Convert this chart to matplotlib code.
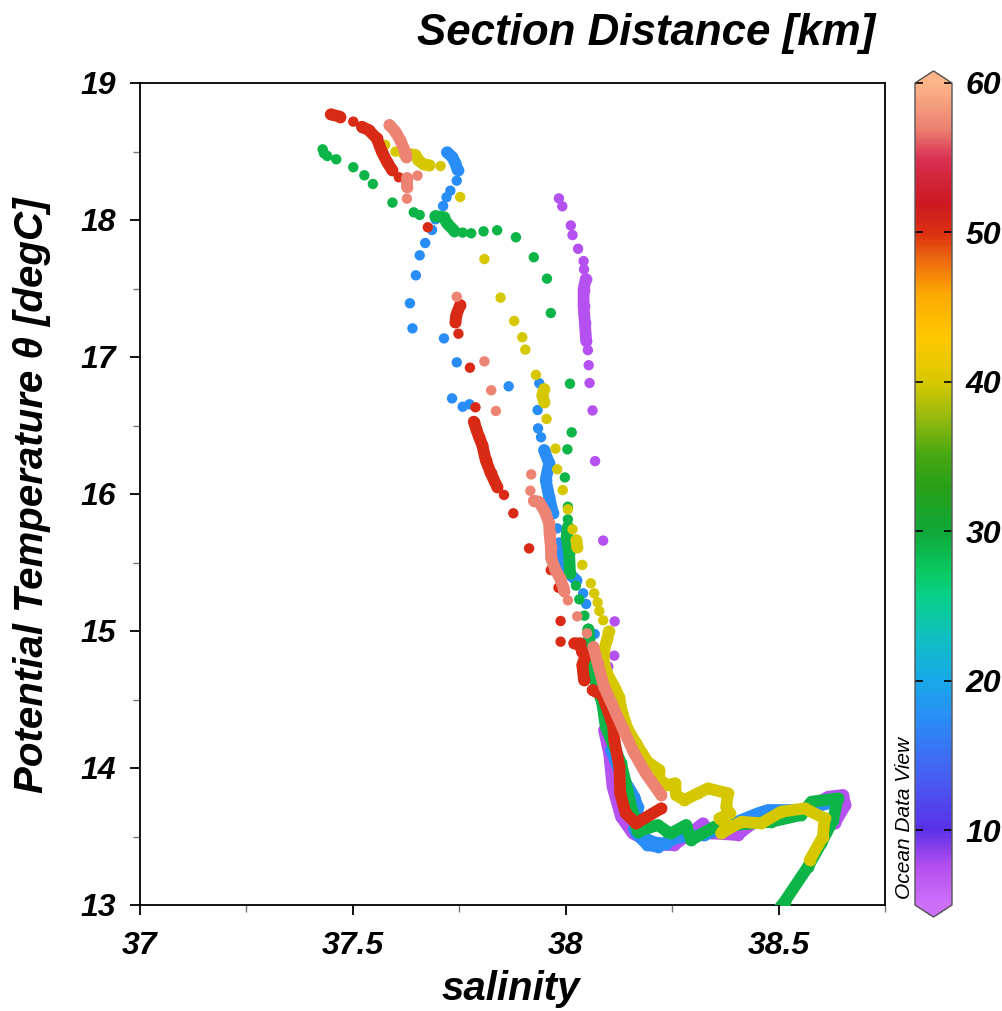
import matplotlib
matplotlib.use("Agg")
import matplotlib.pyplot as plt
from matplotlib.colors import LinearSegmentedColormap, Normalize
from matplotlib.cm import ScalarMappable

# section distance of each cast [km]
dist_a, dist_b, dist_c, dist_d, dist_e, dist_f = 7.5, 17.5, 29, 40, 50.5, 57

# purple cast
a_dots_s = [37.984, 37.992, 38.012, 38.016, 38.029, 38.042, 38.043, 38.052, 38.054, 38.056, 38.063, 38.069, 38.088, 38.115, 38.114, 38.100]
a_dots_t = [18.158, 18.10, 17.96, 17.89, 17.79, 17.70, 17.64, 17.05, 16.94, 16.81, 16.61, 16.24, 15.66, 15.07, 14.82, 14.74]
a_upper_s = [38.047, 38.042, 38.042, 38.045, 38.048]
a_upper_t = [17.57, 17.49, 17.37, 17.25, 17.12]
a_lower_s = [38.090, 38.102, 38.110, 38.130, 38.157, 38.208, 38.255, 38.287, 38.322, 38.341, 38.404, 38.475, 38.561, 38.616, 38.651, 38.657, 38.632]
a_lower_t = [14.277, 14.107, 13.863, 13.644, 13.523, 13.438, 13.438, 13.511, 13.596, 13.523, 13.511, 13.681, 13.693, 13.790, 13.803, 13.730, 13.596]

# blue cast
b_dots_s = [37.744, 37.729, 37.720, 37.712, 37.694, 37.686, 37.670, 37.657, 37.648, 37.634, 37.640, 37.714, 37.744, 37.866, 37.733, 37.758, 37.774, 37.938, 37.934, 37.935, 37.942, 37.980, 38.041, 38.048, 38.068]
b_dots_t = [18.287, 18.214, 18.166, 18.102, 18.005, 17.927, 17.832, 17.742, 17.596, 17.392, 17.209, 17.136, 16.961, 16.786, 16.698, 16.637, 16.655, 16.808, 16.613, 16.479, 16.414, 15.749, 15.275, 15.197, 14.978]
b_upper_s = [37.721, 37.733, 37.741, 37.746]
b_upper_t = [18.494, 18.462, 18.414, 18.365]
b_mid_s = [37.949, 37.961, 37.953, 37.961, 37.970]
b_mid_t = [16.321, 16.224, 16.102, 15.980, 15.859]
b_mid2_s = [37.984, 37.992, 38.008, 38.024]
b_mid2_t = [15.640, 15.518, 15.421, 15.372]
b_lower_s = [38.106, 38.130, 38.161, 38.169, 38.165, 38.192, 38.216, 38.247, 38.271, 38.326, 38.451, 38.475, 38.561, 38.616]
b_lower_t = [14.131, 13.950, 13.790, 13.717, 13.523, 13.438, 13.425, 13.474, 13.498, 13.511, 13.669, 13.693, 13.693, 13.742]
b_blob_s = [38.160, 38.185, 38.205, 38.235]
b_blob_t = [13.555, 13.490, 13.460, 13.445]

# green cast
c_dots_s = [37.429, 37.432, 37.440, 37.461, 37.501, 37.527, 37.547, 37.593, 37.643, 37.657, 37.758, 37.778, 37.807, 37.839, 37.883, 37.925, 37.956, 37.965, 38.010, 38.014, 38.004, 37.998, 38.005, 38.005, 38.024, 38.032, 38.044]
c_dots_t = [18.516, 18.487, 18.467, 18.443, 18.385, 18.326, 18.263, 18.127, 18.056, 18.037, 17.908, 17.903, 17.917, 17.925, 17.874, 17.728, 17.572, 17.321, 16.805, 16.450, 16.326, 16.121, 15.907, 15.815, 15.331, 15.231, 15.112]
c_upper_s = [37.694, 37.713, 37.721, 37.738]
c_upper_t = [18.029, 18.020, 17.976, 17.922]
c_mid_s = [38.005, 38.002, 38.008, 38.010]
c_mid_t = [15.761, 15.688, 15.567, 15.421]
c_lower_s = [38.053, 38.055, 38.059, 38.071, 38.086, 38.094, 38.130, 38.145, 38.157, 38.169, 38.216, 38.239, 38.247, 38.283, 38.294, 38.349, 38.483, 38.553, 38.577, 38.639, 38.628, 38.600, 38.569, 38.514, 38.495]
c_lower_t = [15.012, 14.939, 14.764, 14.618, 14.472, 14.301, 14.034, 13.839, 13.669, 13.535, 13.584, 13.535, 13.523, 13.584, 13.474, 13.571, 13.608, 13.657, 13.754, 13.778, 13.620, 13.450, 13.279, 13.024, 12.95]

# yellow cast
d_dots_s = [37.576, 37.600, 37.706, 37.752, 37.809, 37.847, 37.879, 37.898, 37.905, 37.930, 37.955, 37.976, 37.980, 37.993, 38.005, 38.016, 38.039, 38.059, 38.067, 38.075, 38.079, 38.088]
d_dots_t = [18.548, 18.499, 18.394, 18.168, 17.715, 17.433, 17.263, 17.144, 17.054, 16.869, 16.548, 16.331, 16.180, 16.029, 15.888, 15.742, 15.482, 15.348, 15.275, 15.209, 15.146, 15.078]
d_upper_s = [37.619, 37.647, 37.654, 37.666, 37.680]
d_upper_t = [18.487, 18.475, 18.438, 18.406, 18.399]
d_mid_s = [37.949, 37.945, 37.949]
d_mid_t = [16.766, 16.723, 16.674]
d_mid2_s = [38.025, 38.027]
d_mid2_t = [15.664, 15.611]
d_lower_s = [38.101, 38.098, 38.090, 38.089, 38.100, 38.114, 38.125, 38.133, 38.145, 38.165, 38.192, 38.220, 38.220, 38.239, 38.257, 38.259, 38.279, 38.310, 38.334, 38.381, 38.377, 38.385, 38.361, 38.381, 38.365, 38.412, 38.459, 38.506, 38.561, 38.608, 38.604, 38.573]
d_lower_t = [14.997, 14.946, 14.861, 14.764, 14.671, 14.594, 14.520, 14.399, 14.289, 14.180, 14.046, 13.985, 13.912, 13.876, 13.888, 13.803, 13.766, 13.815, 13.851, 13.815, 13.717, 13.669, 13.632, 13.584, 13.523, 13.608, 13.596, 13.681, 13.705, 13.632, 13.498, 13.328]

# red cast
e_dots_s = [37.501, 37.608, 37.676, 37.748, 37.775, 37.788, 37.855, 37.877, 37.914, 37.965, 37.983, 37.988, 37.988]
e_dots_t = [18.718, 18.312, 17.947, 17.170, 16.922, 16.633, 15.993, 15.859, 15.603, 15.445, 15.316, 15.073, 14.922]
e_top_s = [37.448, 37.470]
e_top_t = [18.771, 18.754]
e_upper_s = [37.521, 37.537, 37.556, 37.568, 37.580, 37.592]
e_upper_t = [18.681, 18.657, 18.596, 18.499, 18.426, 18.365]
e_short_s = [37.752, 37.743, 37.741]
e_short_t = [17.380, 17.307, 17.253]
e_mid_s = [37.784, 37.790, 37.796, 37.804, 37.812, 37.824, 37.839]
e_mid_t = [16.528, 16.472, 16.419, 16.357, 16.248, 16.151, 16.053]
e_mid2_s = [38.020, 38.033, 38.038, 38.047, 38.039, 38.043]
e_mid2_t = [14.910, 14.910, 14.849, 14.825, 14.752, 14.642]
e_lower_s = [38.063, 38.086, 38.111, 38.114, 38.126, 38.128, 38.141, 38.165, 38.224]
e_lower_t = [14.569, 14.533, 14.314, 14.204, 14.009, 13.815, 13.669, 13.596, 13.705]

# salmon cast
f_dots_s = [37.652, 37.627, 37.744, 37.809, 37.825, 37.836, 37.919, 37.917, 38.005, 38.027, 38.050]
f_dots_t = [18.324, 18.156, 17.440, 16.968, 16.757, 16.606, 16.143, 16.024, 15.224, 15.107, 14.983]
f_upper_s = [37.586, 37.600, 37.611, 37.623, 37.625]
f_upper_t = [18.694, 18.645, 18.584, 18.499, 18.462]
f_short_s = [37.627, 37.627]
f_short_t = [18.304, 18.239]
f_mid_s = [37.925, 37.937, 37.951, 37.961, 37.962, 37.965, 37.966, 37.976, 37.986, 37.994, 37.996]
f_mid_t = [15.951, 15.944, 15.871, 15.786, 15.713, 15.615, 15.530, 15.445, 15.389, 15.323, 15.292]
f_lower_s = [38.065, 38.075, 38.090, 38.106, 38.134, 38.161, 38.188, 38.224]
f_lower_t = [14.885, 14.764, 14.594, 14.484, 14.289, 14.107, 13.961, 13.803]

casts = [
    (dist_a, a_dots_s, a_dots_t, [(a_upper_s, a_upper_t), (a_lower_s, a_lower_t)]),
    (dist_b, b_dots_s, b_dots_t, [(b_upper_s, b_upper_t), (b_mid_s, b_mid_t), (b_mid2_s, b_mid2_t), (b_lower_s, b_lower_t), (b_blob_s, b_blob_t)]),
    (dist_c, c_dots_s, c_dots_t, [(c_upper_s, c_upper_t), (c_mid_s, c_mid_t), (c_lower_s, c_lower_t)]),
    (dist_d, d_dots_s, d_dots_t, [(d_upper_s, d_upper_t), (d_mid_s, d_mid_t), (d_mid2_s, d_mid2_t), (d_lower_s, d_lower_t)]),
    (dist_e, e_dots_s, e_dots_t, [(e_top_s, e_top_t), (e_upper_s, e_upper_t), (e_short_s, e_short_t), (e_mid_s, e_mid_t), (e_mid2_s, e_mid2_t), (e_lower_s, e_lower_t)]),
    (dist_f, f_dots_s, f_dots_t, [(f_upper_s, f_upper_t), (f_short_s, f_short_t), (f_mid_s, f_mid_t), (f_lower_s, f_lower_t)]),
]

cbar_ticks = [10, 20, 30, 40, 50, 60]
x_ticks = [37, 37.5, 38, 38.5]
x_labels = ["37", "37.5", "38", "38.5"]
x_minor = [37.25, 37.75, 38.25, 38.75]
y_ticks = [13, 14, 15, 16, 17, 18, 19]
y_minor = [13.5, 14.5, 15.5, 16.5, 17.5, 18.5]

# ODV style rainbow, picked off the colour bar
vmin, vmax = 5, 60
stops = [(5, "#cc70f8"), (7.5, "#b44ff0"), (10, "#5a30e8"), (13, "#4a58f0"), (17.4, "#2a8cf8"),
         (20, "#18a8e8"), (23, "#10c0c0"), (25.6, "#08d088"), (27.4, "#08c860"), (30, "#10a838"),
         (33, "#28a018"), (35.2, "#48a810"), (37.4, "#90b810"), (40, "#d8c800"), (43, "#ffc800"),
         (46, "#fca800"), (48, "#f07010"), (50, "#dc3010"), (52, "#cc1820"), (55, "#d83050"),
         (57, "#ec8070"), (60, "#fcb488")]
cmap = LinearSegmentedColormap.from_list("odv", [((v - vmin) / (vmax - vmin), c) for v, c in stops], N=256)
norm = Normalize(vmin, vmax)

font = {"family": "Liberation Sans", "weight": "bold", "style": "italic"}

fig = plt.figure(figsize=(10.03, 10.11), dpi=100)
W, H = 1003, 1011
ax = fig.add_axes([140 / W, 1 - 905 / H, 745 / W, 822 / H])

z = 3
for dist, dots_s, dots_t, traces in casts:
    color = cmap(norm(dist))
    for s, t in traces:
        ax.plot(s, t, color=color, lw=8.5, marker="o", ms=8.5, mew=0, solid_capstyle="round",
                solid_joinstyle="round", zorder=z)
    ax.scatter(dots_s, dots_t, c=[dist] * len(dots_s), cmap=cmap, norm=norm, s=56, linewidths=0, zorder=z)
    z += 1

ax.set_xlim(37, 38.75)
ax.set_ylim(13, 19)
ax.set_xticks(x_ticks, x_labels)
ax.set_yticks(y_ticks)
ax.set_xticks(x_minor, minor=True)
ax.set_yticks(y_minor, minor=True)
ax.tick_params(which="major", length=7.5, width=1.3, color="black")
ax.tick_params(axis="x", which="major", pad=11)
ax.tick_params(axis="y", which="major", pad=10)
ax.tick_params(which="minor", length=5, width=1, color="#777777")
for lab in ax.get_xticklabels() + ax.get_yticklabels():
    lab.set(fontsize=23, **font)
for sp in ax.spines.values():
    sp.set_linewidth(1.3)

fig.text(511 / W, 1 - 989 / H, "salinity", fontsize=29, ha="center", va="center", **font)
fig.text(32 / W, 1 - 495 / H, "Potential Temperature θ [degC]", fontsize=29, rotation=90, ha="center", va="center", **font)
fig.text(875 / W, 1 - 34 / H, "Section Distance [km]", fontsize=31.6, ha="right", va="center", **font)
fig.text(905 / W, 1 - 818 / H, "Ocean Data View", fontsize=15, rotation=90, ha="center", va="center",
         family="Liberation Sans", style="italic")

# colorbar axes shrink to fit the arrows, so the outer box includes them
cax = fig.add_axes([915 / W, 1 - 917 / H, 37 / W, 846 / H])
cb = fig.colorbar(ScalarMappable(norm=norm, cmap=cmap), cax=cax, extend="both", extendfrac=12 / 822, extendrect=False)
cb.set_ticks(cbar_ticks)
cb.ax.tick_params(which="major", direction="in", left=True, right=True, length=6, width=1.2, pad=10)
cb.ax.minorticks_off()
for lab in cb.ax.get_yticklabels():
    lab.set(fontsize=23, **font)
cb.outline.set_linewidth(1)
cb.outline.set_edgecolor("#555555")

fig.savefig("out.png", dpi=100)
